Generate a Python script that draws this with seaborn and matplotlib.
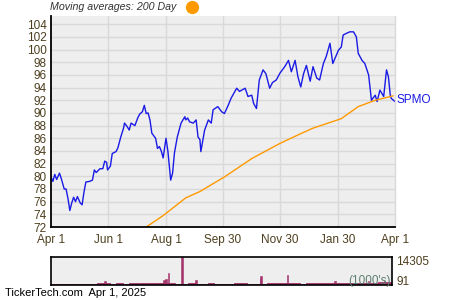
import matplotlib
matplotlib.use("Agg")
import matplotlib.pyplot as plt
from matplotlib.lines import Line2D
import numpy as np
import pandas as pd
import seaborn as sns

# ---------------- data ----------------
price_dates = [
    "2024-04-01", "2024-04-03", "2024-04-05", "2024-04-07", "2024-04-10", "2024-04-12",
    "2024-04-15", "2024-04-17", "2024-04-19", "2024-04-21", "2024-04-23", "2024-04-25",
    "2024-04-27", "2024-04-29", "2024-05-02", "2024-05-04", "2024-05-06", "2024-05-08",
    "2024-05-12", "2024-05-15", "2024-05-17", "2024-05-19", "2024-05-23", "2024-05-26",
    "2024-05-28", "2024-05-30", "2024-05-31", "2024-06-03", "2024-06-05", "2024-06-09",
    "2024-06-11", "2024-06-14", "2024-06-17", "2024-06-18", "2024-06-21", "2024-06-23",
    "2024-06-25", "2024-06-29", "2024-07-02", "2024-07-04", "2024-07-07", "2024-07-09",
    "2024-07-11", "2024-07-13", "2024-07-15", "2024-07-17", "2024-07-21", "2024-07-23",
    "2024-07-25", "2024-07-27", "2024-07-29", "2024-08-01", "2024-08-03", "2024-08-06",
    "2024-08-08", "2024-08-10", "2024-08-13", "2024-08-17", "2024-08-21", "2024-08-22",
    "2024-08-24", "2024-08-26", "2024-08-30", "2024-09-02", "2024-09-04", "2024-09-06",
    "2024-09-07", "2024-09-11", "2024-09-15", "2024-09-18", "2024-09-20", "2024-09-25",
    "2024-09-29", "2024-10-02", "2024-10-06", "2024-10-09", "2024-10-15", "2024-10-18",
    "2024-10-24", "2024-10-27", "2024-10-31", "2024-11-02", "2024-11-05", "2024-11-08",
    "2024-11-12", "2024-11-15", "2024-11-19", "2024-11-22", "2024-11-26", "2024-11-30",
    "2024-12-05", "2024-12-09", "2024-12-12", "2024-12-16", "2024-12-19", "2024-12-22",
    "2024-12-25", "2024-12-28", "2025-01-01", "2025-01-04", "2025-01-08", "2025-01-11",
    "2025-01-15", "2025-01-18", "2025-01-22", "2025-01-25", "2025-01-31", "2025-02-03",
    "2025-02-05", "2025-02-09", "2025-02-12", "2025-02-16", "2025-02-19", "2025-02-21",
    "2025-02-25", "2025-02-28", "2025-03-04", "2025-03-07", "2025-03-11", "2025-03-13",
    "2025-03-16", "2025-03-20", "2025-03-23", "2025-03-25", "2025-03-27", "2025-03-28",
    "2025-04-01",
]
price_values = [
    79.9, 79.2, 80.3, 79.5, 80.5, 79.6,
    78.0, 78.0, 76.5, 74.6, 75.8, 76.7,
    76.0, 76.8, 75.8, 75.5, 77.5, 79.1,
    79.2, 79.4, 81.0, 80.6, 81.2, 81.2,
    82.4, 82.2, 81.0, 81.6, 83.6, 83.9,
    84.5, 86.2, 87.6, 88.4, 87.8, 87.3,
    88.4, 88.0, 89.2, 89.8, 90.2, 91.2,
    89.9, 90.0, 88.9, 86.8, 86.0, 84.4,
    84.7, 84.0, 82.9, 86.0, 84.0, 79.4,
    80.5, 83.7, 86.2, 88.4, 89.4, 88.9,
    89.2, 88.6, 88.4, 88.9, 86.2, 85.8,
    83.9, 87.3, 88.9, 88.4, 90.5, 91.0,
    90.2, 89.9, 91.2, 92.3, 93.9, 93.4,
    93.9, 92.6, 92.8, 91.5, 90.7, 95.2,
    96.8, 96.2, 93.9, 94.8, 95.2, 96.3,
    97.3, 98.3, 96.5, 98.3, 95.7, 94.1,
    96.2, 97.5, 95.0, 97.3, 95.5, 95.2,
    97.8, 98.9, 101.0, 97.8, 99.9, 100.4,
    102.3, 102.6, 102.8, 102.8, 102.0, 99.4,
    98.3, 97.8, 96.0, 92.0, 92.8, 91.8,
    93.6, 92.6, 96.8, 95.7, 92.8, 92.3,
    91.8,
]

ma_dates = ["2024-07-11", "2024-07-29", "2024-08-22", "2024-09-06", "2024-10-02",
            "2024-10-31", "2024-11-30", "2024-12-23", "2025-01-04", "2025-02-03",
            "2025-02-21", "2025-03-11", "2025-03-30"]
ma_values = [72.0, 73.8, 76.6, 77.6, 79.9, 82.8, 85.2, 86.8, 87.6, 89.1, 91.0, 92.0, 92.7]

# weekly baseline volume (thousands)
vol_week_start = "2024-04-01"
vol_week_values = [
    350, 300, 350, 400, 350, 400, 450, 800, 900, 700, 800, 750, 800,
    850, 900, 1100, 900, 900, 800, 750, 700, 800, 750, 700, 800, 750,
    700, 750, 800, 850, 750, 700, 700, 800, 850, 900, 1000, 800, 750,
    800, 850, 900, 800, 850, 900, 950, 1000, 1100, 1150, 1200, 1300, 1400, 1200,
]
# individual heavy-volume days (thousands)
spike_dates = ["2024-05-29", "2024-07-31", "2024-08-02", "2024-08-05", "2024-08-19",
               "2024-09-03", "2024-11-11", "2024-11-12", "2024-12-10", "2025-01-30",
               "2025-03-07", "2025-03-24"]
spike_values = [2000, 2500, 3300, 6000, 14305, 2800, 3000, 4400, 5000, 2100, 1800, 2000]

x_tick_labels = ["Apr 1", "Jun 1", "Aug 1", "Sep 30", "Nov 30", "Jan 30", "Apr 1"]
x_tick_dates = ["2024-04-01", "2024-06-01", "2024-08-01", "2024-09-30",
                "2024-11-30", "2025-01-30", "2025-04-01"]
vol_max_label = "14305"
vol_min_label = "91"

# ---------------- style ----------------
sns.set_theme(style="white")
plt.rcParams["font.family"] = ["Liberation Sans", "DejaVu Sans"]

BG = "#EEEEEE"
GRID = "#D9D9D9"
BLUE = "#1A1AE6"
ORANGE = "#FF9900"
VOLC = "#A3336B"
TICKC = "#4D3F1E"

price_df = pd.DataFrame({"date": pd.to_datetime(price_dates), "price": price_values})
ma_df = pd.DataFrame({"date": pd.to_datetime(ma_dates), "ma": ma_values})

fig = plt.figure(figsize=(4.5, 3.0), dpi=100)
fig.patch.set_facecolor("white")
ax = fig.add_axes([51 / 450, 1 - 227 / 300, 344 / 450, 211 / 300])
ax.set_facecolor(BG)

sns.lineplot(data=price_df, x="date", y="price", ax=ax, color=BLUE, lw=1.0)
sns.lineplot(data=ma_df, x="date", y="ma", ax=ax, color=ORANGE, lw=1.0)

xmin = pd.Timestamp("2024-04-01")
xmax = pd.Timestamp("2025-04-01")
ax.set_xlim(xmin, xmax)
ax.set_ylim(72, 105.3)

ticks = pd.to_datetime(x_tick_dates)
ax.set_xticks(ticks)
ax.set_xticklabels(x_tick_labels)
mids = [ticks[i] + (ticks[i + 1] - ticks[i]) / 2 for i in range(len(ticks) - 1)]
ax.set_xticks(mids, minor=True)
ax.set_yticks(np.arange(72, 105, 2))
ax.set_yticks(np.arange(73, 105, 2), minor=True)
ax.set_xlabel("")
ax.set_ylabel("")

ax.tick_params(axis="both", which="major", direction="in", length=4, width=1,
               color="black", labelsize=8.5, labelcolor=TICKC, pad=3)
ax.tick_params(axis="both", which="minor", direction="in", length=3, width=1, color="black")
ax.tick_params(axis="x", pad=5)

for t in np.arange(74, 105, 2):
    ax.axhline(t, color=GRID, lw=1, zorder=0)
for t in ticks[1:-1]:
    ax.axvline(t, color=GRID, lw=1, zorder=0)

ax.spines["top"].set_visible(False)
ax.spines["right"].set_color(GRID)
ax.spines["right"].set_linewidth(1)
ax.spines["left"].set_color("black")
ax.spines["bottom"].set_color("black")
ax.spines["left"].set_linewidth(1.3)
ax.spines["bottom"].set_linewidth(1.3)

ax.text(1.005, 92.0, "SPMO", transform=ax.get_yaxis_transform(), color=BLUE,
        fontsize=8.5, va="center", ha="left")

# title
fig.text(50 / 450, 1 - 7.5 / 300, "Moving averages: 200 Day", fontsize=7.7, style="italic",
         color="#333333", va="center", ha="left")
fig.add_artist(Line2D([192 / 450], [1 - 7 / 300], marker="o", markersize=8.5,
                      color=ORANGE, transform=fig.transFigure))

# volume panel
vax = fig.add_axes([51 / 450, 1 - 285 / 300, 341 / 450, 28 / 300])
vax.set_facecolor(BG)
week_dates = pd.date_range(vol_week_start, periods=len(vol_week_values), freq="7D")
vax.bar(week_dates, vol_week_values, width=7, align="edge", color=VOLC,
        edgecolor=VOLC, lw=0.6)
vax.bar(pd.to_datetime(spike_dates), spike_values, width=1.6, color=VOLC,
        edgecolor=VOLC, lw=0.4)
vax.set_xlim(xmin, xmax)
vax.set_ylim(0, 14305)
vax.set_xticks([])
vax.set_yticks([])
for s in vax.spines.values():
    s.set_color("black")
    s.set_linewidth(1.2)
vax.text(1.012, 0.82, vol_max_label, transform=vax.transAxes, fontsize=8.5,
         color=TICKC, va="center", ha="left")
vax.text(1.012, 0.12, vol_min_label, transform=vax.transAxes, fontsize=8.5,
         color=TICKC, va="center", ha="left")
vax.text(0.995, 0.15, "(1000's)", transform=vax.transAxes, fontsize=8.5,
         color="#5E8070", va="center", ha="right")

fig.text(5 / 450, 1 - 293 / 300, "TickerTech.com  Apr 1, 2025", fontsize=8,
         color="black", va="center", ha="left")

fig.savefig("out.png", dpi=100)
